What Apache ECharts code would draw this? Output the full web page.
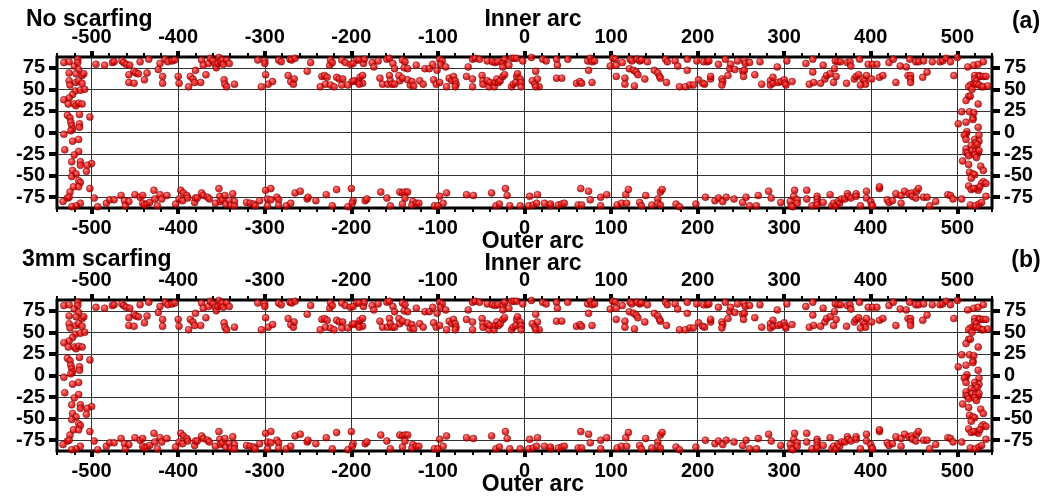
<!DOCTYPE html>
<html>
<head>
<meta charset="utf-8">
<script src="https://cdn.jsdelivr.net/npm/echarts@6/dist/echarts.min.js"></script>
<style>
html,body{margin:0;padding:0;background:#fff;}
#chart{width:1056px;height:498px;}
</style>
</head>
<body>
<div id="chart"></div>
<script>
// ---------- axis ticks ----------
const xTicks = [-500, -400, -300, -200, -100, 0, 100, 200, 300, 400, 500];
const yTicks = [-75, -50, -25, 0, 25, 50, 75];

// ---------- panel (a): No scarfing ----------
const leftEdgeA = [[-532,81],[-526,82],[-526,69],[-520,77],[-516,85],[-516,81],[-515,73],[-518,68],[-511,66],[-509,68],[-526,60],[-525,55],[-518,58],[-515,60],[-511,57],[-519,48],[-513,49],[-508,50],[-522,44],[-526,40],[-532,38],[-527,33],[-520,33],[-518,31],[-515,34],[-511,33],[-514,21],[-528,20],[-525,17],[-524,12],[-523,8],[-522,4],[-524,2],[-514,10],[-514,6],[-502,18],[-532,-2],[-522,-10],[-515,-8],[-531,-20],[-515,-22],[-520,-26],[-523,-34],[-513,-34],[-513,-38],[-500,-36],[-505,-38],[-506,-45],[-522,-44],[-518,-48],[-523,-51],[-515,-56],[-513,-58],[-521,-63],[-515,-63],[-525,-69],[-502,-65],[-528,-76],[-533,-80],[-526,-75],[-513,-82],[-518,-85],[-523,-86]];

const innerArcA = [[-495,79],[-485,78],[-476,81],[-474,82],[-465,83],[-463,81],[-460,79],[-456,78],[-457,67],[-457,58],[-451,71],[-449,69],[-446,68],[-451,57],[-444,82],[-439,61],[-436,69],[-434,85],[-423,73],[-421,80],[-418,65],[-415,85],[-412,82],[-407,83],[-404,84],[-418,57],[-400,65],[-399,57],[-388,53],[-386,65],[-383,62],[-381,58],[-380,72],[-374,58],[-373,84],[-371,78],[-368,67],[-365,80],[-363,86],[-360,83],[-357,79],[-356,75],[-354,80],[-353,87],[-351,82],[-349,84],[-348,79],[-344,84],[-341,80],[-347,61],[-346,56],[-344,53],[-335,56],[-308,84],[-300,83],[-300,80],[-299,67],[-304,53],[-296,56],[-291,59],[-284,84],[-281,82],[-273,66],[-270,59],[-267,56],[-266,62],[-271,85],[-269,84],[-265,86],[-251,71],[-247,81],[-236,53],[-234,65],[-231,66],[-228,64],[-230,56],[-224,55],[-220,53],[-225,78],[-224,84],[-222,81],[-217,64],[-214,62],[-210,62],[-211,55],[-204,55],[-211,84],[-207,81],[-201,79],[-199,59],[-194,84],[-193,59],
[-198,80],[-191,84],[-186,80],[-185,85],[-176,81],[-174,76],[-169,83],[-159,85],[-156,86],[-152,80],[-150,74],[-141,84],[-138,82],[-139,75],[-135,74],[-125,78],[-115,74],[-110,74],[-106,79],[-101,72],[-98,85],[-95,83],[-97,79],[-91,76],[-60,85],[-57,86],[-52,85],[-43,83],[-37,82],[-34,81],[-31,82],[-25,81],[-23,85],[-25,76],[-65,76],[-18,78],[-15,86],[-12,86],[-9,86],[-2,83],[8,87],[21,85],[25,83],[37,85],[38,78],[50,85],[73,83],[76,86],[78,82],[81,83],[74,72],[99,77],[102,86],[105,85],[106,78],[113,81],[122,85],[124,83],[130,85],[133,83],[135,84],[142,82],[121,74],[126,72],[129,70],[131,67],[150,72],[154,69],[156,65],[163,85],[165,82],[174,83],[177,77],[188,85],[188,72],[199,83],
[-197,60],[-191,60],[-190,64],[-187,66],[-187,57],[-191,56],[-167,63],[-164,56],[-158,56],[-156,66],[-155,60],[-153,56],[-150,56],[-145,66],[-144,60],[-141,63],[-135,61],[-132,55],[-130,59],[-128,54],[-121,60],[-117,56],[-105,61],[-102,56],[-98,58],[-90,53],[-87,63],[-84,60],[-82,65],[-80,60],[-79,56],[-80,53],[-67,65],[-60,62],[-60,53],[-49,66],[-48,60],[-48,56],[-43,60],[-41,53],[-40,58],[-35,53],[-34,58],[-32,62],[-30,58],[-28,60],[-25,65],[-23,67],[-15,53],[-13,56],[-10,58],[-9,65],[-8,68],[-5,62],[-4,58],[-4,53],[9,60],[12,56],[13,71],[15,62],[17,53],[13,53],[37,63],[43,63],[60,57],[64,59],[66,57],[78,58],[106,65],[116,63],[116,56],[127,54],[139,62],[157,63],[164,58],[179,53],[186,53],[191,55],[195,55],[201,61],
[207,82],[211,82],[213,83],[224,79],[232,85],[237,74],[238,79],[243,73],[246,83],[252,71],[254,72],[253,65],[254,83],[255,80],[260,81],[272,82],[292,76],[303,83],[325,80],[333,85],[333,70],[345,78],[359,83],[362,82],[365,82],[358,74],[373,81],[376,82],[377,77],[387,85],[397,79],[402,79],[407,79],[421,81],[426,85],[434,77],[441,76],[445,85],[452,82],[455,82],[461,83],[471,82],[480,82],[483,83],[487,86],[492,82],[500,87],
[206,57],[208,56],[215,62],[215,65],[228,62],[229,59],[228,55],[235,66],[266,67],[274,56],[284,60],[284,55],[287,57],[287,64],[293,58],[296,59],[300,61],[301,57],[302,55],[309,59],[329,56],[334,58],[342,57],[347,62],[349,66],[353,68],[357,58],[360,65],[372,57],[381,62],[383,65],[386,67],[391,62],[393,60],[394,56],[395,66],[388,55],[401,62],[410,64],[414,66],[429,58],[443,66],[446,66],[446,62],[446,58],[460,64],[465,70],[496,66]];

const rightEdgeA = [[512,76],[519,78],[524,79],[530,82],[520,66],[525,66],[526,65],[530,65],[533,65],[520,62],[522,60],[518,56],[515,55],[513,53],[517,50],[522,56],[525,55],[528,53],[530,53],[535,54],[513,42],[515,42],[510,37],[524,33],[505,24],[514,24],[519,23],[518,17],[518,15],[510,12],[501,10],[524,6],[511,1],[510,-2],[508,-3],[525,-3],[510,-8],[520,-8],[525,-10],[521,-12],[516,-15],[520,-17],[523,-14],[510,-19],[510,-23],[512,-24],[517,-21],[521,-22],[524,-24],[525,-21],[520,-26],[522,-29],[513,-27],[506,-33],[513,-37],[527,-39],[530,-44],[514,-46],[518,-48],[520,-49],[516,-53],[530,-57],[528,-59],[533,-59],[513,-62],[516,-66],[522,-65],[524,-67],[526,-63],[519,-65],[533,-74],[515,-84],[521,-85],[525,-83],[528,-81]];

const outerArcA = [[-497,-76],[-493,-86],[-483,-82],[-479,-78],[-474,-78],[-466,-73],[-462,-79],[-461,-85],[-457,-80],[-450,-72],[-444,-75],[-441,-73],[-441,-82],[-439,-84],[-436,-83],[-433,-81],[-428,-67],[-427,-77],[-424,-85],[-421,-72],[-419,-77],[-413,-73],[-403,-83],[-397,-67],[-399,-77],[-395,-79],[-394,-70],[-390,-73],[-389,-76],[-381,-81],[-380,-76],[-378,-76],[-373,-70],[-371,-73],[-366,-75],[-364,-77],[-357,-82],[-353,-65],[-352,-74],[-351,-80],[-349,-78],[-346,-73],[-345,-83],[-341,-79],[-339,-84],[-337,-71],[-335,-80],[-335,-85],[-321,-81],[-317,-82],[-313,-83],[-311,-85],[-306,-79],[-299,-67],[-297,-77],[-293,-65],[-293,-78],[-297,-85],[-286,-75],[-284,-78],[-284,-84],[-275,-85],[-270,-82],[-265,-70],[-259,-68],[-251,-77],[-250,-75],[-241,-79],[-229,-72],[-222,-85],[-217,-66],[-204,-86],[-200,-65],[-198,-79],[-199,-82],
[-184,-79],[-182,-77],[-166,-69],[-159,-76],[-155,-85],[-144,-69],[-141,-70],[-138,-69],[-135,-69],[-141,-83],[-138,-76],[-129,-80],[-130,-84],[-125,-82],[-122,-82],[-104,-85],[-100,-85],[-98,-74],[-94,-82],[-90,-70],[-67,-72],[-59,-73],[-38,-70],[-33,-85],[-29,-83],[-22,-65],[-20,-73],[-17,-85],[-5,-85],[5,-85],[6,-74],[10,-84],[14,-82],[15,-72],[23,-82],[30,-85],[30,-83],[39,-84],[43,-83],[46,-82],[62,-84],[66,-84],[65,-65],[74,-68],[76,-78],[88,-75],[88,-85],[95,-72],[107,-84],[112,-82],[117,-72],[118,-82],[120,-66],[133,-81],[135,-85],[140,-73],[147,-84],[154,-77],[154,-82],[157,-69],[159,-66],[157,-84],[175,-83],[179,-86],
[198,-83],[209,-75],[220,-79],[224,-76],[229,-80],[233,-75],[242,-77],[252,-81],[256,-75],[260,-85],[268,-85],[270,-73],[282,-68],[285,-76],[296,-81],[307,-80],[308,-85],[310,-86],[312,-67],[311,-74],[315,-78],[315,-82],[326,-67],[326,-77],[332,-85],[338,-74],[338,-77],[338,-81],[338,-84],[345,-81],[353,-72],[355,-85],[357,-82],[360,-85],[362,-80],[364,-82],[366,-77],[370,-77],[373,-71],[374,-74],[377,-76],[383,-71],[383,-74],[388,-85],[395,-68],[395,-76],[400,-80],[401,-84],[402,-85],[410,-65],[410,-63],[419,-78],[421,-81],[425,-79],[429,-71],[435,-82],[435,-73],[439,-68],[444,-71],[447,-70],[448,-74],[452,-76],[453,-68],[455,-65],[461,-75],[465,-75],[468,-85],[475,-80],[489,-72],[492,-73],[495,-77],[505,-77]];

// ---------- panel (b): 3mm scarfing (reads the same as panel (a) to within a pixel) ----------
const leftEdgeB = leftEdgeA;
const innerArcB = innerArcA;
const rightEdgeB = rightEdgeA;
const outerArcB = outerArcA;

// ---------- layout / style ----------
const FONT = '"Liberation Sans", Arial, Helvetica, sans-serif';
const X_MIN = -540, X_MAX = 540, Y_MIN = -87.5, Y_MAX = 87.5;
const GRID_TOPS = [57, 300];

const chart = echarts.init(document.getElementById('chart'), null, {renderer: 'canvas'});

const lbl = {fontFamily: FONT, fontSize: 20, fontWeight: 'bold', color: '#000'};
const grids = [], xAxes = [], yAxes = [], series = [];

const pointStyle = {
  color: new echarts.graphic.RadialGradient(0.4, 0.35, 0.7, [
    {offset: 0, color: '#ff7070'},
    {offset: 0.5, color: '#e80000'},
    {offset: 1, color: '#a00000'}
  ]),
  borderColor: '#700000',
  borderWidth: 0.6
};

const panels = [
  [leftEdgeA, innerArcA, rightEdgeA, outerArcA],
  [leftEdgeB, innerArcB, rightEdgeB, outerArcB]
];

GRID_TOPS.forEach((top, g) => {
  grids.push({left: 57, top: top, width: 935, height: 151, show: true,
    borderColor: '#000', borderWidth: 3, backgroundColor: 'transparent', containLabel: false});
  ['bottom', 'top'].forEach(pos => {
    xAxes.push({type: 'value', gridIndex: g, position: pos, min: X_MIN, max: X_MAX,
      axisLine: {show: false, onZero: false},
      axisTick: {show: true, customValues: xTicks, length: 6, inside: false, lineStyle: {color: '#000', width: 4}},
      axisLabel: {show: true, customValues: xTicks, margin: 10, ...lbl},
      splitLine: {show: pos === 'bottom', lineStyle: {color: '#333', width: 1}}
    });
    xAxes.push({type: 'value', gridIndex: g, position: pos, min: X_MIN, max: X_MAX, interval: 20,
      axisLine: {show: false, onZero: false},
      axisTick: {show: true, length: 4, inside: false, lineStyle: {color: '#000', width: 2}},
      axisLabel: {show: false}, splitLine: {show: false}
    });
  });
  ['left', 'right'].forEach(pos => {
    yAxes.push({type: 'value', gridIndex: g, position: pos, min: Y_MIN, max: Y_MAX,
      axisLine: {show: false, onZero: false},
      axisTick: {show: true, customValues: yTicks, length: 8, inside: false, lineStyle: {color: '#000', width: 4}},
      axisLabel: {show: true, customValues: yTicks, margin: 12, ...lbl},
      splitLine: {show: pos === 'left', lineStyle: {color: '#333', width: 1}}
    });
  });
  panels[g].forEach(arr => {
    series.push({type: 'scatter', xAxisIndex: g * 4, yAxisIndex: g * 2, data: arr,
      symbol: 'circle', symbolSize: 7, clip: false, itemStyle: pointStyle,
      emphasis: {disabled: true}, z: 5});
  });
});

const tStyle = (txt, x, y, align) => ({type: 'text', x: x, y: y, silent: true, z: 10,
  style: {text: txt, fill: '#000', font: 'bold 23px ' + FONT, textAlign: align || 'center', textVerticalAlign: 'middle'}});

chart.setOption({
  animation: false,
  backgroundColor: '#fff',
  grid: grids,
  xAxis: xAxes,
  yAxis: yAxes,
  series: series,
  graphic: [
    tStyle('No scarfing', 26, 20, 'left'),
    tStyle('Inner arc', 533, 20),
    tStyle('(a)', 1026, 22),
    tStyle('Outer arc', 533, 242),
    tStyle('3mm scarfing', 22, 260, 'left'),
    tStyle('Inner arc', 533, 264),
    tStyle('(b)', 1026, 261),
    tStyle('Outer arc', 533, 485)
  ]
});
</script>
</body>
</html>
